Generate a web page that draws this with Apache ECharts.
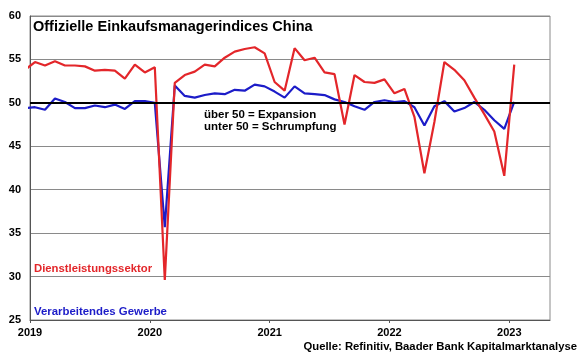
<!DOCTYPE html>
<html>
<head>
<meta charset="utf-8">
<script src="https://cdn.jsdelivr.net/npm/echarts@6/dist/echarts.min.js"></script>
<style>html,body{margin:0;padding:0;background:#fff}#c{width:580px;height:359px}</style>
</head>
<body>
<div id="c"></div>
<script>
// Months (YYYY-MM), Dec 2018 .. Jan 2023
const months = [
 '2018-12',
 '2019-01','2019-02','2019-03','2019-04','2019-05','2019-06','2019-07','2019-08','2019-09','2019-10','2019-11','2019-12',
 '2020-01','2020-02','2020-03','2020-04','2020-05','2020-06','2020-07','2020-08','2020-09','2020-10','2020-11','2020-12',
 '2021-01','2021-02','2021-03','2021-04','2021-05','2021-06','2021-07','2021-08','2021-09','2021-10','2021-11','2021-12',
 '2022-01','2022-02','2022-03','2022-04','2022-05','2022-06','2022-07','2022-08','2022-09','2022-10','2022-11','2022-12',
 '2023-01'
];
// Dienstleistungssektor (non-manufacturing PMI)
const services = [
 53.8,
 54.7,54.3,54.8,54.3,54.3,54.2,53.7,53.8,53.7,52.8,54.4,53.5,
 54.1,29.6,52.3,53.2,53.6,54.4,54.2,55.2,55.9,56.2,56.4,55.7,
 52.4,51.4,56.3,54.9,55.2,53.5,53.3,47.5,53.2,52.4,52.3,52.7,
 51.1,51.6,48.4,41.9,47.8,54.7,53.8,52.6,50.6,48.7,46.7,41.6,
 54.4
];
// Verarbeitendes Gewerbe (manufacturing PMI)
const manufacturing = [
 49.4,
 49.5,49.2,50.5,50.1,49.4,49.4,49.7,49.5,49.8,49.3,50.2,50.2,
 50.0,35.7,52.0,50.8,50.6,50.9,51.1,51.0,51.5,51.4,52.1,51.9,
 51.3,50.6,51.9,51.1,51.0,50.9,50.4,50.1,49.6,49.2,50.1,50.3,
 50.1,50.2,49.5,47.4,49.6,50.2,49.0,49.4,50.1,49.2,48.0,47.0,
 50.1
];
const yearTicks = [2019, 2020, 2021, 2022, 2023];
const threshold = 50;

function pos(m){ const [y, mo] = m.split('-').map(Number); return y + (mo - 0.5) / 12; }
const sData = months.map((m,i)=>[pos(m), services[i]]);
const mData = months.map((m,i)=>[pos(m), manufacturing[i]]);

const FONT = 'Liberation Sans, Arial, sans-serif';
const chart = echarts.init(document.getElementById('c'), null, {renderer:'canvas'});
chart.setOption({
  animation:false,
  backgroundColor:'#fff',
  grid:{left:30, right:30, top:16, bottom:39, show:true, borderColor:'#8a8a8a', borderWidth:1, backgroundColor:'transparent'},
  xAxis:{
    type:'value', min:2019, max:2023.34, interval:1,
    axisLine:{show:true, lineStyle:{color:'#555', width:1}},
    axisTick:{show:true, length:3, inside:false, lineStyle:{color:'#555'}},
    splitLine:{show:false},
    axisLabel:{
      color:'#000', fontFamily:FONT, fontWeight:'bold', fontSize:11, margin:7,
      showMaxLabel:false,
      formatter:v => yearTicks.includes(Math.round(v)) && Math.abs(v-Math.round(v))<1e-6 ? String(Math.round(v)) : ''
    }
  },
  yAxis:{
    type:'value', min:25, max:60, interval:5,
    axisLine:{show:true, lineStyle:{color:'#555', width:1}},
    axisTick:{show:false},
    splitLine:{show:true, lineStyle:{color:'#8a8a8a', width:1}},
    axisLabel:{color:'#000', fontFamily:FONT, fontWeight:'bold', fontSize:11, margin:9}
  },
  series:[
    {type:'line', data:[], silent:true, z:1,
     markLine:{silent:true, symbol:'none', label:{show:false},
       lineStyle:{color:'#000', width:2, type:'solid'}, data:[{yAxis:threshold}]}},
    {name:'Dienstleistungssektor', type:'line', data:sData, showSymbol:false, clip:true, z:3,
     lineStyle:{color:'#e3262a', width:2.2}},
    {name:'Verarbeitendes Gewerbe', type:'line', data:mData, showSymbol:false, clip:true, z:2,
     lineStyle:{color:'#1c1cc8', width:2.2}}
  ],
  graphic:[
    {type:'text', left:33, top:19, style:{text:'Offizielle Einkaufsmanagerindices China', font:'bold 14.5px '+FONT, fill:'#000'}},
    {type:'text', left:204, top:109, style:{text:'über 50 = Expansion', font:'bold 11.5px '+FONT, fill:'#000'}},
    {type:'text', left:204, top:121, style:{text:'unter 50 = Schrumpfung', font:'bold 11.5px '+FONT, fill:'#000'}},
    {type:'text', left:34, top:263, style:{text:'Dienstleistungssektor', font:'bold 11.3px '+FONT, fill:'#e3262a'}},
    {type:'text', left:34, top:306, style:{text:'Verarbeitendes Gewerbe', font:'bold 11.4px '+FONT, fill:'#1c1cc8'}},
    {type:'text', right:3, top:341, style:{text:'Quelle: Refinitiv, Baader Bank Kapitalmarktanalyse', font:'bold 11.3px '+FONT, fill:'#000'}}
  ]
});
</script>
</body>
</html>
